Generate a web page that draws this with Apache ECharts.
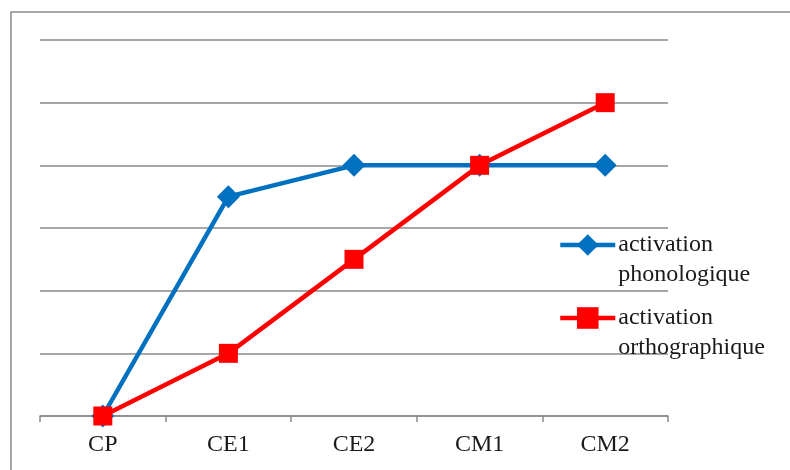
<!DOCTYPE html>
<html>
<head>
<meta charset="utf-8">
<script src="https://cdn.jsdelivr.net/npm/echarts@6/dist/echarts.min.js"></script>
<style>
html,body{margin:0;padding:0;background:#fff;}
#chart{width:790px;height:470px;}
</style>
</head>
<body>
<div id="chart"></div>
<script>
const categories = ['CP', 'CE1', 'CE2', 'CM1', 'CM2'];
const phonologique = [0, 3.5, 4, 4, 4];
const orthographique = [0, 1, 2.5, 4, 5];
const seriesNames = ['activation\nphonologique', 'activation\northographique'];

const chart = echarts.init(document.getElementById('chart'), null, {renderer: 'canvas'});
const fontFam = '"Liberation Serif", "Times New Roman", serif';
const legendCommon = {
  orient: 'vertical',
  left: 558,
  padding: 0,
  itemWidth: 55,
  itemHeight: 27,
  itemGap: 0,
  selectedMode: false,
  lineStyle: {width: 4.5},
  formatter: function (n) { return '\n' + n; },
  textStyle: {fontFamily: fontFam, fontSize: 24, color: '#1a1a1a', lineHeight: 30, padding: [0, 0, 0, -2]}
};
chart.setOption({
  animation: false,
  backgroundColor: '#fff',
  graphic: [{
    type: 'rect',
    shape: {x: 11, y: 12, width: 900, height: 600},
    style: {fill: 'none', stroke: '#8a8a8a', lineWidth: 1.5},
    silent: true,
    z: -1
  }],
  legend: [
    Object.assign({}, legendCommon, {top: 200, data: [seriesNames[0]]}),
    Object.assign({}, legendCommon, {top: 273, data: [seriesNames[1]]})
  ],
  grid: {left: 40, right: 122, top: 40, bottom: 54, containLabel: false},
  xAxis: {
    type: 'category',
    data: categories,
    boundaryGap: true,
    axisLine: {show: true, lineStyle: {color: '#8a8a8a', width: 1.5}},
    axisTick: {show: true, inside: false, length: 6, lineStyle: {color: '#8a8a8a', width: 1.5}},
    axisLabel: {fontFamily: fontFam, fontSize: 24, color: '#1a1a1a', margin: 17}
  },
  yAxis: {
    type: 'value',
    min: 0,
    max: 6,
    interval: 1,
    axisLine: {show: false},
    axisTick: {show: false},
    axisLabel: {show: false},
    splitLine: {lineStyle: {color: '#8a8a8a', width: 1.5}}
  },
  series: [
    {
      name: seriesNames[0],
      type: 'line',
      data: phonologique,
      symbol: 'diamond',
      symbolSize: 23,
      itemStyle: {color: '#0070C0'},
      lineStyle: {color: '#0070C0', width: 4.5},
      z: 2
    },
    {
      name: seriesNames[1],
      type: 'line',
      data: orthographique,
      symbol: 'rect',
      symbolSize: 19,
      itemStyle: {color: '#FF0000'},
      lineStyle: {color: '#FF0000', width: 4.5},
      z: 3
    }
  ]
});
</script>
</body>
</html>
